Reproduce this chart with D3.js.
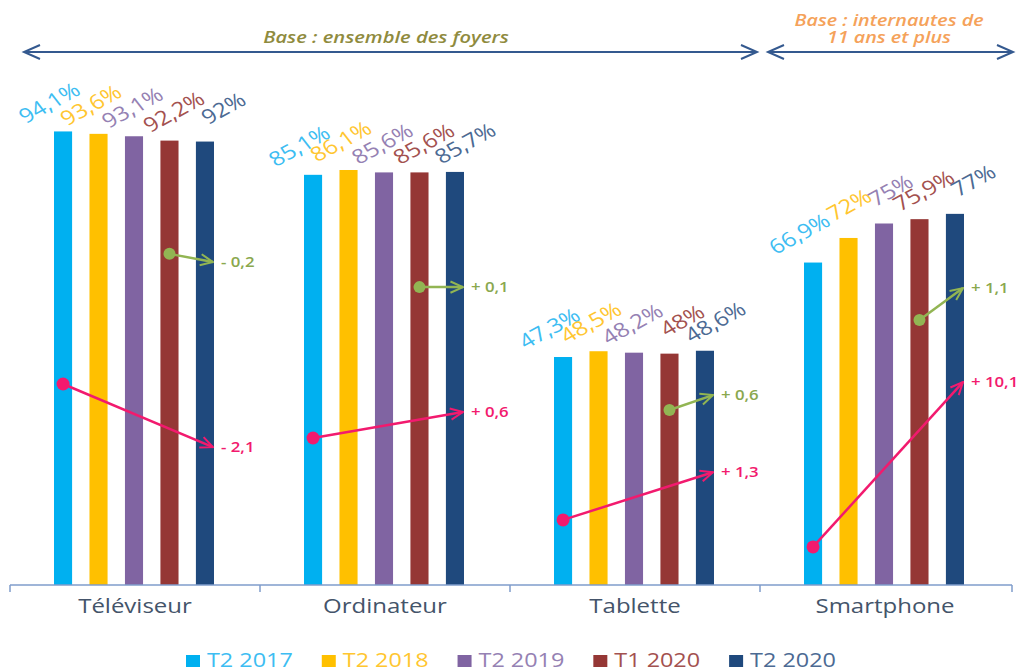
<!DOCTYPE html>
<html>
<head>
<meta charset="utf-8">
<script src="https://cdn.jsdelivr.net/npm/d3@7"></script>
<style>
    body { margin: 0; background: #fff; }
    svg { display: block; font-family: "Open Sans", sans-serif; }
</style>
</head>
<body>
<div id="chart"></div>
<script>
// devices and survey waves
const categories = ["Téléviseur", "Ordinateur", "Tablette", "Smartphone"];
const seriesNames = ["T2 2017", "T2 2018", "T2 2019", "T1 2020", "T2 2020"];

// equipment rate (%) per device, one array per wave
const t2_2017 = [94.1, 85.1, 47.3, 66.9];
const t2_2018 = [93.6, 86.1, 48.5, 72];
const t2_2019 = [93.1, 85.6, 48.2, 75];
const t1_2020 = [92.2, 85.6, 48, 75.9];
const t2_2020 = [92, 85.7, 48.6, 77];

// height (in % units) where the evolution arrows are drawn
const pinkFrom = [41.7, 30.5, 13.5, 7.9];
const pinkTo = [28.6, 35.9, 23.4, 42.1];
const greenFrom = [68.7, 61.8, 36.3, 55.0];
const greenTo = [67.0, 61.8, 39.4, 61.6];

const colors = ["#00B0F0", "#FFC000", "#8064A2", "#953735", "#1F497D"];
const labelColors = ["#3dbdf2", "#ffc630", "#9581b3", "#a3514f", "#4c6a93"];
const pink = "#f21a6e";
const green = "#92b553";

const w = 1018;
const h = 671;
const baseY = 585;
const sx = 1.2; // the source picture is stretched sideways

const allSeries = [t2_2017, t2_2018, t2_2019, t1_2020, t2_2020];

const xScale = d3.scaleBand()
    .domain(categories)
    .range([10, 1010]);

const xInner = d3.scaleBand()
    .domain(seriesNames)
    .range([44, 204])
    .paddingInner(0.49);

const yScale = d3.scaleLinear()
    .domain([0, 100])
    .range([baseY, 103]);

const svg = d3.select("#chart")
    .append("svg")
    .attr("width", w)
    .attr("height", h);

function addText(g, x, y, str, opts) {
    let t = g.append("text")
        .attr("transform", "translate(" + x + "," + y + ") scale(" + (opts.sx || sx) + ",1)" + (opts.rotate ? " rotate(" + opts.rotate + ")" : ""))
        .attr("text-anchor", opts.anchor || "middle")
        .attr("font-size", opts.size)
        .attr("fill", opts.color)
        .text(str);
    if (opts.italic) t.attr("font-style", "italic");
    if (opts.weight) t.attr("font-weight", opts.weight);
    return t;
}

// arrow markers
function chevron(id, color) {
    svg.append("defs").append("marker")
        .attr("id", id)
        .attr("viewBox", "0 0 12 12")
        .attr("refX", 11)
        .attr("refY", 6)
        .attr("markerWidth", 15)
        .attr("markerHeight", 15)
        .attr("markerUnits", "userSpaceOnUse")
        .attr("orient", "auto")
        .append("path")
        .attr("d", "M1,1.5 L11,6 L1,10.5")
        .attr("fill", "none")
        .attr("stroke", color)
        .attr("stroke-width", 1.6);
}
chevron("arrPink", pink);
chevron("arrGreen", green);

// bars
const groups = svg.selectAll("g.cat")
    .data(categories)
    .enter()
    .append("g")
    .attr("class", "cat")
    .attr("transform", function (d) {
        return "translate(" + xScale(d) + ",0)";
    });

groups.each(function (cat, ci) {
    const g = d3.select(this);
    seriesNames.forEach(function (s, si) {
        const v = allSeries[si][ci];
        g.append("rect")
            .attr("x", xInner(s))
            .attr("y", yScale(v))
            .attr("width", xInner.bandwidth())
            .attr("height", baseY - yScale(v))
            .attr("fill", colors[si]);
    });
    // value labels fan out a little wider than the bars
    seriesNames.forEach(function (s, si) {
        const v = allSeries[si][ci];
        addText(g, xInner(s) + xInner.bandwidth() + 22 + 6 * (si - 2), yScale(v) - 38,
            String(v).replace(".", ",") + "%",
            {anchor: "end", size: 20, color: labelColors[si], rotate: -33});
    });

    const endX = xInner("T2 2020") + xInner.bandwidth() / 2 + 8;
    const fmt = function (d) {
        const r = Math.round(d * 10) / 10;
        return (r < 0 ? "- " : "+ ") + String(Math.abs(r)).replace(".", ",");
    };

    // green arrow: T1 2020 -> T2 2020
    const gx0 = xInner("T1 2020") + xInner.bandwidth() / 2;
    g.append("line")
        .attr("x1", gx0).attr("y1", yScale(greenFrom[ci]))
        .attr("x2", endX).attr("y2", yScale(greenTo[ci]))
        .attr("stroke", green).attr("stroke-width", 2.5)
        .attr("marker-end", "url(#arrGreen)");
    g.append("circle")
        .attr("cx", gx0).attr("cy", yScale(greenFrom[ci]))
        .attr("r", 6).attr("fill", green);
    addText(g, endX + 8, yScale(greenTo[ci]) + 5, fmt(t2_2020[ci] - t1_2020[ci]),
        {anchor: "start", size: 14, color: "#8aa84e", weight: 600});

    // pink arrow: T2 2017 -> T2 2020
    const px0 = xInner("T2 2017") + xInner.bandwidth() / 2;
    g.append("line")
        .attr("x1", px0).attr("y1", yScale(pinkFrom[ci]))
        .attr("x2", endX).attr("y2", yScale(pinkTo[ci]))
        .attr("stroke", pink).attr("stroke-width", 2.5)
        .attr("marker-end", "url(#arrPink)");
    g.append("circle")
        .attr("cx", px0).attr("cy", yScale(pinkFrom[ci]))
        .attr("r", 6.5).attr("fill", pink);
    addText(g, endX + 8, yScale(pinkTo[ci]) + 5, fmt(t2_2020[ci] - t2_2017[ci]),
        {anchor: "start", size: 14, color: pink, weight: 600});
});

// category axis
const axisColor = "#7f9ccb";
svg.append("line")
    .attr("x1", xScale.range()[0]).attr("x2", xScale.range()[1] + 2)
    .attr("y1", baseY).attr("y2", baseY)
    .attr("stroke", axisColor).attr("stroke-width", 1.5);

const tickXs = categories.map(function (c) { return xScale(c); }).concat([xScale.range()[1] + 2]);
svg.selectAll("line.tick")
    .data(tickXs)
    .enter()
    .append("line")
    .attr("class", "tick")
    .attr("x1", function (d) { return d; })
    .attr("x2", function (d) { return d; })
    .attr("y1", baseY)
    .attr("y2", baseY + 7)
    .attr("stroke", axisColor)
    .attr("stroke-width", 1.5);

categories.forEach(function (c) {
    addText(svg, xScale(c) + xScale.bandwidth() / 2, 613, c, {size: 20, color: "#44546A"});
});

// legend
let lx = 186;
seriesNames.forEach(function (s, si) {
    svg.append("rect")
        .attr("x", lx).attr("y", 655)
        .attr("width", 14).attr("height", 12)
        .attr("fill", colors[si]);
    const t = addText(svg, lx + 21, 667, s, {anchor: "start", size: 19.5, color: labelColors[si]});
    lx += 21 + t.node().getComputedTextLength() * sx + 29;
});

// base brackets at the top
const bracketColor = "#34598f";
function bracket(x0, x1, y) {
    svg.append("path")
        .attr("d", "M" + x0 + "," + y + "L" + x1 + "," + y +
            "M" + (x0 + 16) + "," + (y - 7) + "L" + x0 + "," + y + "L" + (x0 + 16) + "," + (y + 7) +
            "M" + (x1 - 16) + "," + (y - 7) + "L" + x1 + "," + y + "L" + (x1 - 16) + "," + (y + 7))
        .attr("fill", "none")
        .attr("stroke", bracketColor)
        .attr("stroke-width", 2);
}
bracket(24, 757, 52);
bracket(768, 1013, 52);

addText(svg, 386, 43, "Base : ensemble des foyers",
    {size: 16.5, color: "#8f8b3e", italic: true, weight: 600, sx: 1.22});

const orange = addText(svg, 889, 26, "", {size: 16, color: "#f5a25a", italic: true, weight: 600, sx: 1.23});
orange.append("tspan").attr("x", 0).attr("y", 0).text("Base : internautes de");
orange.append("tspan").attr("x", 0).attr("y", 17).text("11 ans et plus");
</script>
</body>
</html>
